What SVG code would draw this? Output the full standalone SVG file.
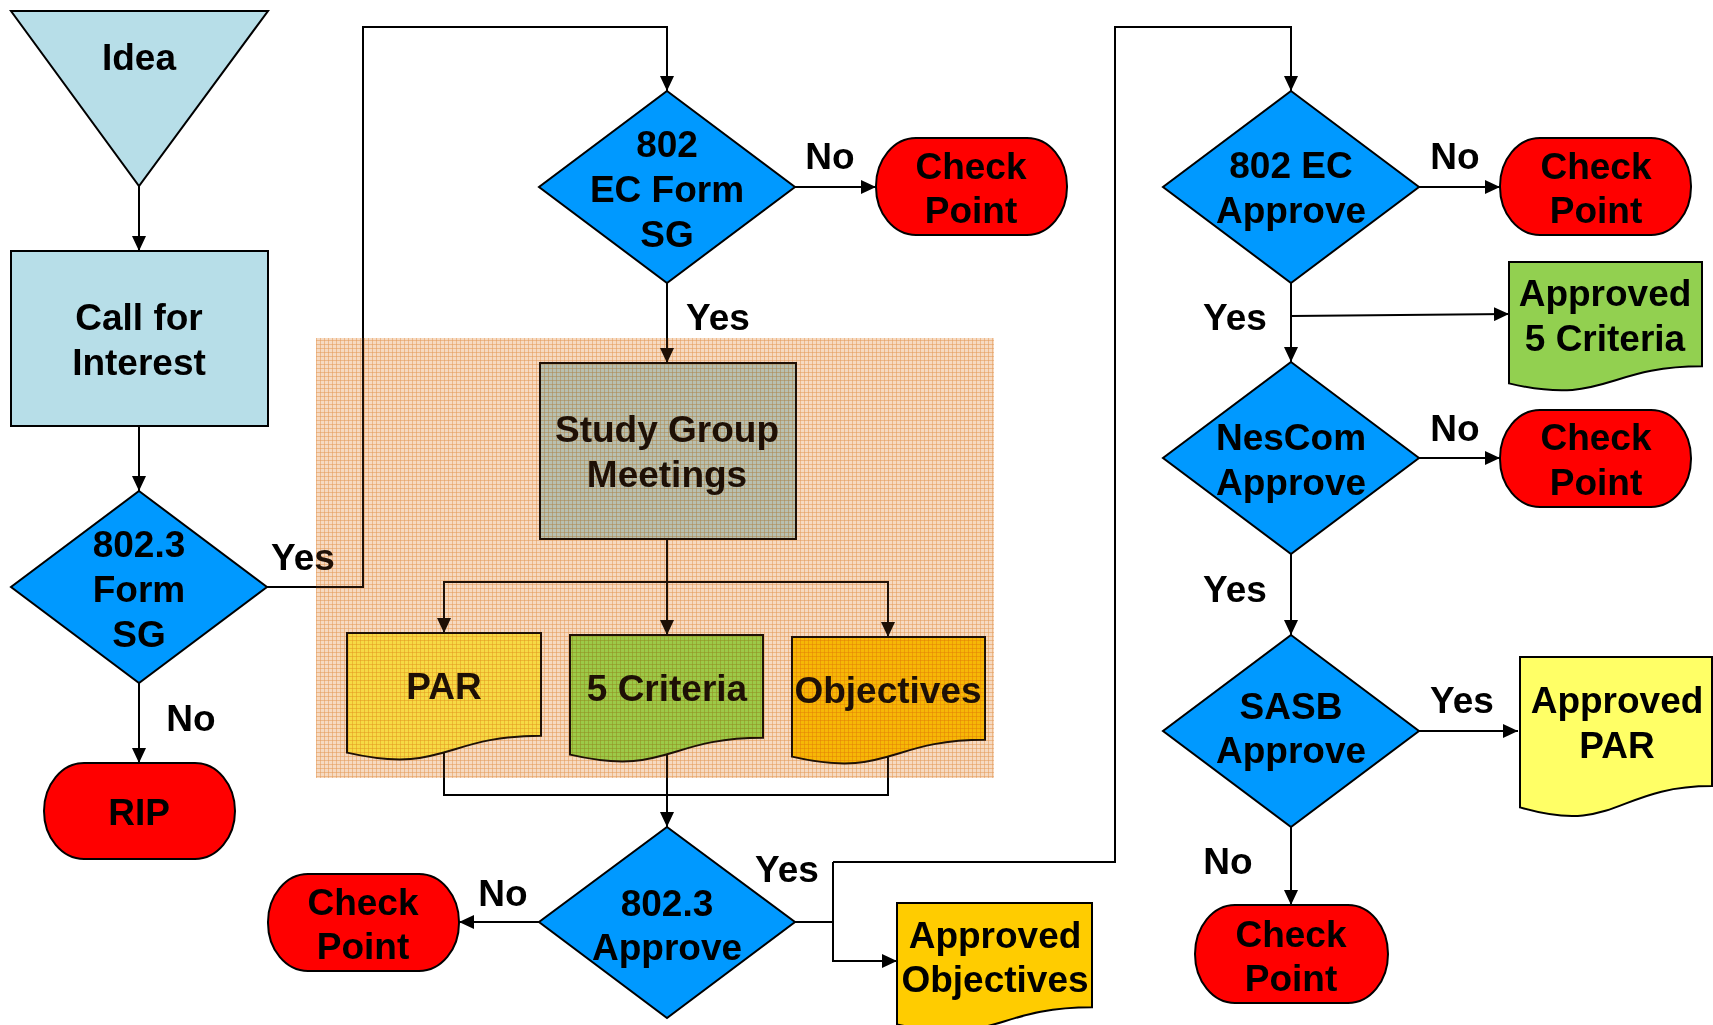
<svg xmlns="http://www.w3.org/2000/svg" width="1713" height="1025" viewBox="0 0 1713 1025">
<style>
text{font-family:"Liberation Sans",Arial,sans-serif;font-weight:bold;font-size:37px;text-anchor:middle;fill:#000}
.sh{stroke:#000;stroke-width:2}
.dia{fill:#0099FF}
.cp{fill:#FF0000}
.lb{fill:#B7DEE8}
.ln{fill:none;stroke:#000;stroke-width:2}
.mul{mix-blend-mode:multiply}
</style>
<defs>
<marker id="ah" viewBox="0 0 15 14" refX="15" refY="7" markerWidth="15" markerHeight="14" markerUnits="userSpaceOnUse" orient="auto">
<path d="M0,0 L15,7 L0,14 z" fill="#000"/>
</marker>
<pattern id="tex" width="4" height="4" patternUnits="userSpaceOnUse">
<rect width="4" height="4" fill="#FEEEDD"/>
<rect width="4" height="1" fill="#F4C699"/>
<rect width="1" height="4" fill="#F4C699"/>
<rect width="1" height="1" fill="#EBB27F"/>
</pattern>
</defs>
<rect width="1713" height="1025" fill="#fff"/>

<g id="connectors" class="ln">
<path d="M139,186 V251" marker-end="url(#ah)"/>
<path d="M139,426 V491" marker-end="url(#ah)"/>
<path d="M139,683 V763" marker-end="url(#ah)"/>
<path d="M267,587 H363 V27 H667 V91" marker-end="url(#ah)"/>
<path d="M795,187 H876" marker-end="url(#ah)"/>
<path d="M667,283 V363" marker-end="url(#ah)"/>
<path d="M667,539 V635" marker-end="url(#ah)"/>
<path d="M667,582 H444 V633" marker-end="url(#ah)"/>
<path d="M667,582 H888 V637" marker-end="url(#ah)"/>
<path d="M444,752 V795 H888 V756"/>
<path d="M667,754 V827" marker-end="url(#ah)"/>
<path d="M539,922 H459" marker-end="url(#ah)"/>
<path d="M795,922 H833"/>
<path d="M833,862 V961 H897" marker-end="url(#ah)"/>
<path d="M833,862 H1115 V27 H1291 V91" marker-end="url(#ah)"/>
<path d="M1419,187 H1500" marker-end="url(#ah)"/>
<path d="M1291,283 V362" marker-end="url(#ah)"/>
<path d="M1291,316 L1509,314" marker-end="url(#ah)"/>
<path d="M1419,458 H1500" marker-end="url(#ah)"/>
<path d="M1291,554 V635" marker-end="url(#ah)"/>
<path d="M1419,731 H1518" marker-end="url(#ah)"/>
<path d="M1291,827 V905" marker-end="url(#ah)"/>
</g>

<g id="labels">
<text x="303" y="570">Yes</text>
<text x="191" y="731">No</text>
<text x="830" y="169">No</text>
<text x="718" y="330">Yes</text>
<text x="503" y="906">No</text>
<text x="787" y="882">Yes</text>
<text x="1455" y="169">No</text>
<text x="1235" y="330">Yes</text>
<text x="1455" y="441">No</text>
<text x="1235" y="602">Yes</text>
<text x="1462" y="713">Yes</text>
<text x="1228" y="874">No</text>
</g>

<g id="idea">
<polygon class="lb sh" points="11,11 268,11 139,186"/>
<text x="139" y="70">Idea</text>
</g>
<g id="call-for-interest">
<rect class="lb sh" x="11" y="251" width="257" height="175"/>
<text x="139" y="330">Call for</text>
<text x="139" y="375">Interest</text>
</g>
<g id="d-8023-form-sg">
<polygon class="dia sh" points="139,491 267,587 139,683 11,587"/>
<text x="139" y="557">802.3</text>
<text x="139" y="602">Form</text>
<text x="139" y="647">SG</text>
</g>
<g id="rip">
<rect class="cp sh" x="44" y="763" width="191" height="96" rx="40" ry="48"/>
<text x="139" y="825">RIP</text>
</g>
<g id="d-802ec-form-sg">
<polygon class="dia sh" points="667,91 795,187 667,283 539,187"/>
<text x="667" y="157">802</text>
<text x="667" y="202">EC Form</text>
<text x="667" y="247">SG</text>
</g>
<g id="cp1">
<rect class="cp sh" x="876" y="138" width="191" height="97" rx="40" ry="48"/>
<text x="971" y="179">Check</text>
<text x="971" y="223">Point</text>
</g>
<g id="study-group">
<rect class="lb sh" x="540" y="363" width="256" height="176"/>
<text x="667" y="442">Study Group</text>
<text x="667" y="487">Meetings</text>
</g>
<g id="par">
<path class="sh" fill="#FFFF55" d="M347,633 H541 V735.7 C444,735.7 444,774.8 347,752.6 Z"/>
<text x="444" y="699">PAR</text>
</g>
<g id="five-criteria">
<path class="sh" fill="#96EB5A" d="M570,635 H763 V737.7 C666.5,737.7 666.5,776.8 570,754.6 Z"/>
<text x="667" y="701">5 Criteria</text>
</g>
<g id="objectives">
<path class="sh" fill="#FFD400" d="M792,637 H985 V739.7 C888.5,739.7 888.5,778.8 792,756.6 Z"/>
<text x="888" y="703">Objectives</text>
</g>
<g id="sg-area">
<rect class="mul" x="316" y="338" width="678" height="440" fill="url(#tex)"/>
<rect x="316" y="338" width="678" height="440" fill="#C86E28" fill-opacity="0.15"/>
</g>
<g id="d-8023-approve">
<polygon class="dia sh" points="667,827 795,922 667,1018 539,922"/>
<text x="667" y="916">802.3</text>
<text x="667" y="960">Approve</text>
</g>
<g id="cp-left">
<rect class="cp sh" x="268" y="874" width="191" height="97" rx="40" ry="48"/>
<text x="363" y="915">Check</text>
<text x="363" y="959">Point</text>
</g>
<g id="approved-objectives">
<path class="sh" fill="#FFCC00" d="M897,903 H1092 V1007.3 C994.5,1007.3 994.5,1047 897,1024.4 Z"/>
<text x="995" y="948">Approved</text>
<text x="995" y="992">Objectives</text>
</g>
<g id="d-802ec-approve">
<polygon class="dia sh" points="1291,91 1419,187 1291,283 1163,187"/>
<text x="1291" y="178">802 EC</text>
<text x="1291" y="223">Approve</text>
</g>
<g id="cp2">
<rect class="cp sh" x="1500" y="138" width="191" height="97" rx="40" ry="48"/>
<text x="1596" y="179">Check</text>
<text x="1596" y="223">Point</text>
</g>
<g id="approved-5-criteria">
<path class="sh" fill="#92D050" d="M1509,262 H1702 V366.3 C1605.5,366.3 1605.5,406 1509,383.4 Z"/>
<text x="1605" y="306">Approved</text>
<text x="1605" y="351">5 Criteria</text>
</g>
<g id="d-nescom-approve">
<polygon class="dia sh" points="1291,362 1419,458 1291,554 1163,458"/>
<text x="1291" y="450">NesCom</text>
<text x="1291" y="495">Approve</text>
</g>
<g id="cp3">
<rect class="cp sh" x="1500" y="410" width="191" height="97" rx="40" ry="48"/>
<text x="1596" y="450">Check</text>
<text x="1596" y="495">Point</text>
</g>
<g id="d-sasb-approve">
<polygon class="dia sh" points="1291,635 1419,731 1291,827 1163,731"/>
<text x="1291" y="719">SASB</text>
<text x="1291" y="763">Approve</text>
</g>
<g id="approved-par">
<path class="sh" fill="#FFFF66" d="M1520,657 H1712 V786.1 C1616,786.1 1616,835.3 1520,807.4 Z"/>
<text x="1617" y="713">Approved</text>
<text x="1617" y="758">PAR</text>
</g>
<g id="cp4">
<rect class="cp sh" x="1195" y="905" width="193" height="98" rx="40" ry="49"/>
<text x="1291" y="947">Check</text>
<text x="1291" y="991">Point</text>
</g>
</svg>
